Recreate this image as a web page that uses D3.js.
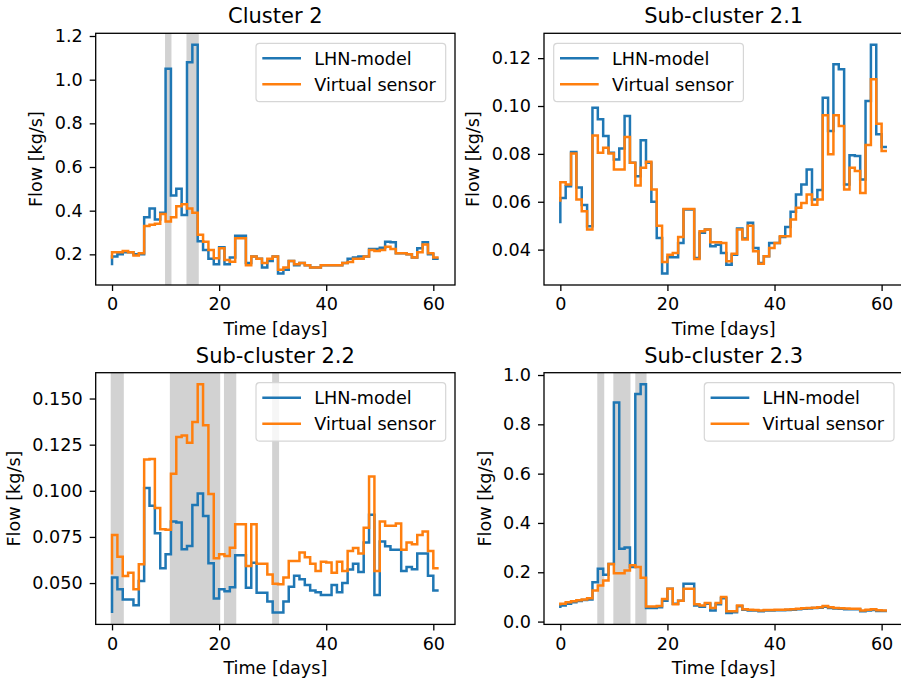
<!DOCTYPE html>
<html>
<head>
<meta charset="utf-8">
<script src="https://cdn.jsdelivr.net/npm/d3@7"></script>
<style>
  body { margin: 0; background: #fff; }
  text { font-family: "DejaVu Sans", sans-serif; fill: #000; }
</style>
</head>
<body>
<div id="chart"></div>
<script>
// day index 0..61 (value k is drawn over (k-1, k], steps-pre like matplotlib)
var days = d3.range(0, 62);

var cluster2Lhn = [0.15, 0.19, 0.20, 0.21, 0.21, 0.20, 0.20, 0.37, 0.41, 0.36, 0.39, 1.05, 0.47, 0.50, 0.38, 1.08,
  1.16, 0.26, 0.22, 0.18, 0.155, 0.232, 0.155, 0.186, 0.285, 0.285, 0.16, 0.19, 0.18, 0.14, 0.17, 0.19,
  0.112, 0.13, 0.17, 0.15, 0.16, 0.15, 0.14, 0.14, 0.15, 0.15, 0.15, 0.15, 0.16, 0.18, 0.185, 0.19, 0.19,
  0.225, 0.225, 0.23, 0.258, 0.255, 0.205, 0.205, 0.20, 0.186, 0.228, 0.255, 0.20, 0.18];
var cluster2Vs = [0.18, 0.21, 0.21, 0.215, 0.21, 0.195, 0.205, 0.33, 0.335, 0.34, 0.385, 0.35, 0.37, 0.42, 0.43, 0.41,
  0.39, 0.29, 0.258, 0.22, 0.182, 0.228, 0.174, 0.166, 0.274, 0.274, 0.15, 0.19, 0.18, 0.16, 0.18, 0.19,
  0.13, 0.14, 0.17, 0.155, 0.16, 0.15, 0.14, 0.14, 0.15, 0.15, 0.15, 0.15, 0.16, 0.165, 0.18, 0.18, 0.19,
  0.22, 0.215, 0.22, 0.235, 0.225, 0.205, 0.205, 0.20, 0.186, 0.21, 0.245, 0.205, 0.185];

var sub21Lhn = [0.051, 0.0616, 0.0665, 0.0808, 0.066, 0.0586, 0.0498, 0.0993, 0.0945, 0.0875, 0.0805, 0.0777,
  0.0823, 0.0958, 0.0763, 0.0707, 0.0857, 0.0763, 0.06, 0.0449, 0.030, 0.0368, 0.0368, 0.0428, 0.0568, 0.0568,
  0.0365, 0.047, 0.0484, 0.0414, 0.042, 0.0386, 0.0337, 0.0379, 0.0488, 0.0446, 0.0512, 0.0407, 0.0344, 0.0372,
  0.0428, 0.0428, 0.0453, 0.0495, 0.0558, 0.063, 0.0672, 0.0735, 0.0609, 0.0649, 0.1035, 0.0896, 0.1175, 0.1154,
  0.0672, 0.0794, 0.0791, 0.0693, 0.1021, 0.1256, 0.0882, 0.0829];
var sub21Vs = [0.060, 0.0682, 0.0672, 0.0802, 0.0609, 0.056, 0.0484, 0.0877, 0.0805, 0.0826, 0.0802, 0.0735,
  0.0735, 0.0871, 0.0763, 0.0668, 0.0742, 0.0767, 0.0651, 0.05, 0.0348, 0.0379, 0.0386, 0.0453, 0.057, 0.057,
  0.0361, 0.0477, 0.0484, 0.0431, 0.0431, 0.0428, 0.0351, 0.0383, 0.0484, 0.0442, 0.05, 0.0393, 0.0341, 0.0372,
  0.0407, 0.0428, 0.0456, 0.0456, 0.0526, 0.0575, 0.0595, 0.063, 0.0588, 0.0609, 0.0961, 0.0798, 0.0961, 0.0916,
  0.0651, 0.0742, 0.0728, 0.0637, 0.0837, 0.1112, 0.0926, 0.0812];

var sub22Lhn = [0.0338, 0.053, 0.0466, 0.0411, 0.0411, 0.038, 0.0511, 0.1015, 0.0919, 0.077, 0.058, 0.0656,
  0.0834, 0.0828, 0.0683, 0.0701, 0.0923, 0.0986, 0.0863, 0.0607, 0.0417, 0.0466, 0.0456, 0.0478, 0.0651, 0.0651,
  0.0475, 0.061, 0.0447, 0.0447, 0.040, 0.034, 0.034, 0.040, 0.048, 0.054, 0.052, 0.049, 0.046, 0.045,
  0.0435, 0.0435, 0.049, 0.045, 0.050, 0.0574, 0.0605, 0.056, 0.072, 0.087, 0.0435, 0.0725, 0.070, 0.068,
  0.068, 0.0565, 0.0587, 0.0575, 0.066, 0.066, 0.054, 0.046];
var sub22Vs = [0.0547, 0.076, 0.0642, 0.0538, 0.0556, 0.0466, 0.0602, 0.117, 0.1173, 0.0907, 0.0792, 0.0789,
  0.1092, 0.1291, 0.13, 0.126, 0.1373, 0.1578, 0.1355, 0.0983, 0.0634, 0.0656, 0.0647, 0.0692, 0.0819, 0.0819,
  0.0593, 0.0819, 0.0605, 0.0605, 0.0547, 0.0496, 0.0493, 0.053, 0.062, 0.062, 0.0665, 0.064, 0.0605, 0.0565,
  0.0616, 0.0611, 0.0556, 0.0616, 0.0565, 0.0674, 0.069, 0.066, 0.080, 0.1077, 0.0565, 0.0834, 0.081, 0.081,
  0.0823, 0.068, 0.072, 0.071, 0.076, 0.078, 0.0674, 0.058];

var sub23Lhn = [0.055, 0.065, 0.072, 0.078, 0.083, 0.088, 0.09, 0.16, 0.214, 0.19, 0.234, 0.889, 0.295, 0.30,
  0.221, 0.923, 0.963, 0.055, 0.055, 0.058, 0.085, 0.133, 0.072, 0.085, 0.153, 0.153, 0.065, 0.06, 0.072,
  0.045, 0.07, 0.095, 0.035, 0.038, 0.062, 0.048, 0.045, 0.045, 0.042, 0.045, 0.045, 0.046, 0.046, 0.047,
  0.048, 0.05, 0.052, 0.053, 0.055, 0.056, 0.06, 0.055, 0.053, 0.052, 0.05, 0.05, 0.05, 0.042, 0.045, 0.047,
  0.043, 0.043];
var sub23Vs = [0.065, 0.072, 0.078, 0.082, 0.087, 0.09, 0.095, 0.126, 0.146, 0.167, 0.234, 0.196, 0.196, 0.207,
  0.228, 0.221, 0.178, 0.061, 0.061, 0.063, 0.092, 0.133, 0.07, 0.085, 0.133, 0.133, 0.07, 0.065, 0.075,
  0.055, 0.075, 0.10, 0.042, 0.042, 0.065, 0.05, 0.048, 0.047, 0.045, 0.047, 0.047, 0.048, 0.048, 0.049,
  0.05, 0.052, 0.054, 0.055, 0.056, 0.058, 0.063, 0.058, 0.055, 0.054, 0.053, 0.052, 0.052, 0.045, 0.048, 0.05,
  0.046, 0.045];

// shaded periods [start day, end day]
var cluster2Spans = [[9.9, 11.1], [13.9, 16.2]];
var sub21Spans = [];
var sub22Spans = [[-0.25, 2.2], [10.8, 20.2], [20.9, 23.2], [29.9, 31.2]];
var sub23Spans = [[6.9, 8.2], [9.9, 13.1], [14.0, 16.1]];

var xTicks = [0, 20, 40, 60];
var cluster2Ticks = [0.2, 0.4, 0.6, 0.8, 1.0, 1.2];
var sub21Ticks = [0.04, 0.06, 0.08, 0.10, 0.12];
var sub22Ticks = [0.050, 0.075, 0.100, 0.125, 0.150];
var sub23Ticks = [0.0, 0.2, 0.4, 0.6, 0.8, 1.0];

var titles = ["Cluster 2", "Sub-cluster 2.1", "Sub-cluster 2.2", "Sub-cluster 2.3"];
var seriesNames = ["LHN-model", "Virtual sensor"];
var colors = ["#1f77b4", "#ff7f0e"];

var panels = [
  {title: titles[0], lhn: cluster2Lhn, vs: cluster2Vs, spans: cluster2Spans, ticks: cluster2Ticks, fmt: ".1f", legend: "right", left: 95.7, top: 33.3},
  {title: titles[1], lhn: sub21Lhn, vs: sub21Vs, spans: sub21Spans, ticks: sub21Ticks, fmt: ".2f", legend: "left", left: 544, top: 33.3},
  {title: titles[2], lhn: sub22Lhn, vs: sub22Vs, spans: sub22Spans, ticks: sub22Ticks, fmt: ".3f", legend: "right", left: 95.7, top: 372.7},
  {title: titles[3], lhn: sub23Lhn, vs: sub23Vs, spans: sub23Spans, ticks: sub23Ticks, fmt: ".1f", legend: "right", left: 544, top: 372.7}
];

var width = 359.3, height = 251.7;
var fontSize = 17.6;

var svg = d3.select("#chart")
  .append("svg")
    .attr("width", 901)
    .attr("height", 684);

panels.forEach(function(p, pi) {
  var g = svg.append("g")
    .attr("transform", "translate(" + p.left + "," + p.top + ")");

  // matplotlib style 5% margins
  var xPad = (d3.max(days) - d3.min(days)) * 0.05;
  var x = d3.scaleLinear()
    .domain([d3.min(days) - xPad, d3.max(days) + xPad])
    .range([0, width]);

  var all = p.lhn.concat(p.vs);
  var lo = d3.min(all), hi = d3.max(all);
  var yPad = (hi - lo) * 0.05;
  var y = d3.scaleLinear()
    .domain([lo - yPad, hi + yPad])
    .range([height, 0]);

  g.append("clipPath")
    .attr("id", "clip" + pi)
    .append("rect")
      .attr("width", width)
      .attr("height", height);

  var plot = g.append("g").attr("clip-path", "url(#clip" + pi + ")");

  // shaded periods
  plot.selectAll("rect.span")
    .data(p.spans)
    .enter()
    .append("rect")
      .attr("class", "span")
      .attr("x", function(d) { return x(d[0]); })
      .attr("y", 0)
      .attr("width", function(d) { return x(d[1]) - x(d[0]); })
      .attr("height", height)
      .attr("fill", "#d2d2d2");

  var line = d3.line()
    .x(function(d, i) { return x(days[i]); })
    .y(function(d) { return y(d); })
    .curve(d3.curveStepBefore);

  [p.lhn, p.vs].forEach(function(series, si) {
    plot.append("path")
      .datum(series)
      .attr("fill", "none")
      .attr("stroke", colors[si])
      .attr("stroke-width", 2.5)
      .attr("stroke-linejoin", "miter")
      .attr("d", line);
  });

  // x axis
  var xAxis = g.append("g")
    .attr("transform", "translate(0," + height + ")")
    .call(d3.axisBottom(x).tickValues(xTicks).tickSize(6).tickPadding(7).tickSizeOuter(0));
  xAxis.select(".domain").remove();
  xAxis.selectAll("line").attr("stroke", "#000").attr("stroke-width", 1.3);
  xAxis.selectAll("text")
    .style("font-size", fontSize + "px")
    .style("font-family", "'DejaVu Sans', sans-serif")
    .attr("fill", "#000");

  // y axis
  var yAxis = g.append("g")
    .call(d3.axisLeft(y).tickValues(p.ticks).tickFormat(d3.format(p.fmt)).tickSize(6).tickPadding(7).tickSizeOuter(0));
  yAxis.select(".domain").remove();
  yAxis.selectAll("line").attr("stroke", "#000").attr("stroke-width", 1.3);
  yAxis.selectAll("text")
    .style("font-size", fontSize + "px")
    .style("font-family", "'DejaVu Sans', sans-serif")
    .attr("fill", "#000");

  var maxW = 0;
  yAxis.selectAll("text").each(function() {
    maxW = Math.max(maxW, this.getComputedTextLength());
  });

  // spines
  g.append("rect")
    .attr("width", width)
    .attr("height", height)
    .attr("fill", "none")
    .attr("stroke", "#000")
    .attr("stroke-width", 1.3);

  // title
  g.append("text")
    .attr("x", width / 2)
    .attr("y", -10)
    .attr("text-anchor", "middle")
    .style("font-size", "21px")
    .text(p.title);

  g.append("text")
    .attr("x", width / 2)
    .attr("y", height + 50)
    .attr("text-anchor", "middle")
    .style("font-size", fontSize + "px")
    .text("Time [days]");

  g.append("text")
    .attr("transform", "translate(" + (-(maxW + 25.5)) + "," + (height / 2) + ") rotate(-90)")
    .attr("text-anchor", "middle")
    .style("font-size", fontSize + "px")
    .text("Flow [kg/s]");

  // legend
  var lw = 189.7, lh = 58.4;
  var lx = p.legend === "right" ? width - 9.3 - lw : 9.7;
  var legend = g.append("g").attr("transform", "translate(" + lx + ",10)");
  legend.append("rect")
    .attr("width", lw)
    .attr("height", lh)
    .attr("rx", 3.5)
    .attr("fill", "#fff")
    .attr("fill-opacity", 0.8)
    .attr("stroke", "#d6d6d6")
    .attr("stroke-width", 1.2);

  seriesNames.forEach(function(name, si) {
    var ly = 15 + si * 26;
    legend.append("line")
      .attr("x1", 6.3)
      .attr("x2", 45)
      .attr("y1", ly)
      .attr("y2", ly)
      .attr("stroke", colors[si])
      .attr("stroke-width", 2.5);
    legend.append("text")
      .attr("x", 58.3)
      .attr("y", ly + 6.4)
      .style("font-size", fontSize + "px")
      .text(name);
  });
});
</script>
</body>
</html>
